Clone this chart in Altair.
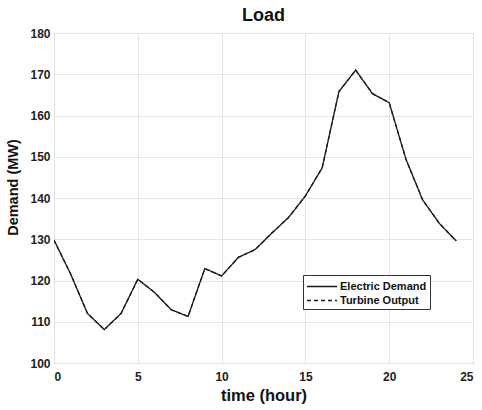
import altair as alt
import pandas as pd

hours = list(range(25))
electric_demand = [129.8, 121.5, 112.0, 108.1, 112.0, 120.3, 117.1, 112.9, 111.3, 122.9, 121.1,
                   125.6, 127.5, 131.5, 135.3, 140.5, 147.3, 165.8, 171.0, 165.3, 163.1,
                   149.4, 139.5, 133.8, 129.6]
turbine_output = list(electric_demand)
series_names = ["Electric Demand", "Turbine Output"]

rows = []
for name, vals in zip(series_names, [electric_demand, turbine_output]):
    for h, v in zip(hours, vals):
        rows.append({"hour": h, "value": v, "series": name})
df = pd.DataFrame(rows)

FONT = "Liberation Sans"

chart = alt.Chart(df).mark_line(strokeWidth=1.3, color="#1a1a1a", clip=True).encode(
    x=alt.X("hour:Q", scale=alt.Scale(domain=[0, 25], nice=False),
            axis=alt.Axis(title="time (hour)", values=[0, 5, 10, 15, 20, 25], tickSize=0,
                          labelPadding=8, titlePadding=5, titleFontSize=16.5)),
    y=alt.Y("value:Q", scale=alt.Scale(domain=[100, 180], nice=False, zero=False),
            axis=alt.Axis(title="Demand (MW)", values=list(range(100, 181, 10)), tickSize=0,
                          labelPadding=4, titlePadding=9, titleFontSize=14.5, titleY=154)),
    strokeDash=alt.StrokeDash("series:N",
        scale=alt.Scale(domain=series_names, range=[[1, 0], [4, 3]]),
        legend=alt.Legend(title=None, orient="none", legendX=249, legendY=242,
                          symbolType="M-1,0H3", symbolSize=225, symbolStrokeColor="#1a1a1a",
                          symbolStrokeWidth=1.3, symbolFillColor="transparent",
                          labelFontSize=11, labelFontWeight="bold",
                          labelFont=FONT, labelColor="#111", labelOffset=17,
                          strokeColor="#333", fillColor="white", padding=3, rowPadding=0,
                          labelLimit=200)),
    order=alt.Order("series:N"),
).properties(
    width=419, height=330,
    background="white",
    title=alt.Title("Load", fontSize=18, fontWeight="bold", font=FONT, color="#111", offset=2),
    autosize=alt.AutoSizeParams(type="none"),
    padding={"left": 54, "top": 33, "right": 9, "bottom": 47},
).configure_view(
    stroke="#444", strokeWidth=1
).configure_axis(
    labelFont=FONT, labelFontSize=12, labelFontWeight="bold", labelColor="#222",
    titleFont=FONT, titleFontWeight="bold", titleColor="#111",
    gridColor="#e3e3e3", gridWidth=1, domain=False,
)

chart.save("out.html", embed_options={"renderer": "svg", "actions": False})
